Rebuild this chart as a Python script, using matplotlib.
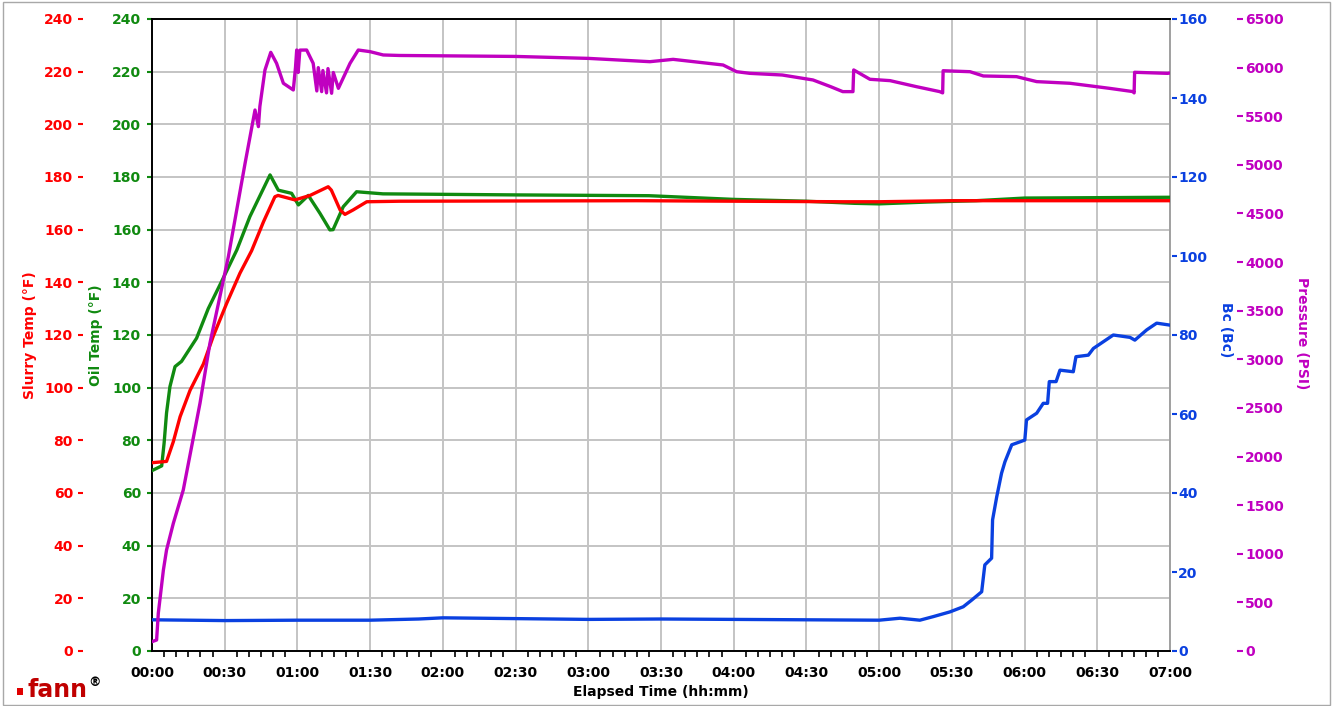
import matplotlib
matplotlib.use("Agg")
import matplotlib.pyplot as plt
from matplotlib.ticker import FixedLocator, FuncFormatter
from matplotlib.patches import Rectangle

# ---------------- data (minutes, value) ----------------
slurry_t = [0, 6, 8.8, 11.6, 15.7, 21.2, 25.3, 30.8, 36.3, 41.1, 46, 50.7, 52, 59, 65.2,
            72.7, 74, 77.6, 79.6, 83, 88.6, 102, 200, 285, 300, 330, 420]
slurry_v = [71.5, 72, 79.5, 89, 99, 109, 119.6, 132, 143.5, 152, 163, 172.5, 173, 171.3, 173,
            176.3, 175, 167.5, 165.8, 167.5, 170.6, 170.8, 171, 170.6, 170.6, 171, 171]

oil_t = [0, 4, 5, 6, 7.4, 9.5, 12.2, 18.4, 23.2, 28.7, 35, 40.4, 48.7, 52.1, 57.6, 60.4,
         64.5, 69.3, 73.4, 74.7, 78.9, 84.4, 95.3, 150, 205, 240, 270, 290, 300, 320,
         340, 360, 420]
oil_v = [68.5, 70.3, 79, 90.4, 100.4, 108, 110, 118.8, 130, 140.3, 152.3, 165, 180.8, 175,
         173.8, 169.4, 173, 166.2, 159.9, 160, 168.7, 174.4, 173.6, 173.2, 172.9, 171.5,
         170.8, 170, 169.8, 170.5, 171, 172, 172.3]

pres_t = [0, 1.9, 2.6, 4.7, 6, 8.8, 12.9, 19.8, 23.9, 28, 31.5, 38.4, 42.5, 43.9, 44.5,
          46.6, 49, 51.4, 54.2, 58.3, 59.2, 59.7, 60.3, 61, 63.8, 66.5, 68, 68.6, 70,
          70.5, 72, 72.6, 74.1, 74.8, 76.9, 81.7, 85.1, 90, 95.4, 102, 150, 180,
          205.4, 215, 235.6, 241.2, 246.7, 260, 272.7, 280, 285, 289.2, 289.5, 296.2,
          304.5, 315.4, 325, 326.2, 326.4, 337.5, 343, 356.7, 365, 378.7, 395, 404.8,
          405.2, 405.4, 419, 420]
pres_v = [96, 113, 388, 833, 1039, 1313, 1656, 2548, 3165, 3644, 4055, 5016, 5564, 5393,
          5600, 5975, 6157, 6044, 5839, 5770, 6000, 6181, 5950, 6180, 6181, 6044, 5760,
          6000, 5753, 5970, 5740, 5990, 5736, 5950, 5787, 6044, 6181, 6164, 6130, 6125,
          6115, 6095, 6061, 6085, 6027, 5958, 5941, 5924, 5873, 5804, 5753, 5753, 5976,
          5880, 5866, 5804, 5753, 5740, 5968, 5958, 5914, 5907, 5856, 5839, 5787, 5753,
          5740, 5952, 5941, 5945]

bc_t = [0, 30, 60, 90, 110, 120, 150, 180, 210, 240, 270, 300, 308.6, 316.8, 322.3,
        329.2, 334.7, 338.2, 342.3, 343.6, 346.4, 346.8, 348.5, 350.5, 351.9, 354.7,
        360.1, 360.8, 365, 367.7, 369.5, 370.2, 373, 374.6, 380.1, 381.2, 386.3, 388.4,
        392.5, 396.6, 403.5, 405.5, 410.4, 414.5, 420]
bc_v = [7.9, 7.7, 7.8, 7.8, 8.1, 8.4, 8.2, 8.0, 8.1, 8.0, 7.9, 7.8, 8.3, 7.8, 8.7,
        9.9, 11.2, 12.9, 15, 21.8, 23.5, 33.2, 39, 45, 47.9, 52.2, 53.4, 58.5, 60.2,
        62.7, 62.7, 68.2, 68.2, 71.1, 70.7, 74.5, 74.9, 76.6, 78.3, 80, 79.4, 78.7,
        81.3, 83, 82.5]

temp_ticks = list(range(0, 241, 20))
bc_ticks = list(range(0, 161, 20))
pres_ticks = list(range(0, 6501, 500))
time_ticks = list(range(0, 421, 30))

RED = "#ff0000"
GREEN = "#108a10"
BLUE = "#0a40e0"
MAG = "#c000c0"

plt.rcParams['font.family'] = ['DejaVu Sans']
plt.rcParams['font.weight'] = 'bold'

W, H = 1333, 706
fig = plt.figure(figsize=(W / 100, H / 100), dpi=100)
L, R, T, B = 152, 1170, 19, 651
ax = fig.add_axes([L / W, 1 - B / H, (R - L) / W, (B - T) / H])

PX = 0.72  # points per pixel

# host: oil temp (green), grid
ax.set_xlim(0, 420)
ax.set_ylim(0, 240)
ax.set_yticks(temp_ticks)
ax.xaxis.set_major_locator(FixedLocator(time_ticks))
ax.xaxis.set_minor_locator(FixedLocator([m for m in range(0, 421, 5) if m % 30 != 0]))
ax.xaxis.set_major_formatter(FuncFormatter(lambda v, p: "%02d:%02d" % (int(v) // 60, int(v) % 60)))
ax.tick_params(axis='x', which='major', length=0, pad=11, labelsize=10, labelcolor='black')
ax.tick_params(axis='x', which='minor', length=4, width=1.2, color='black', direction='out', pad=2)
ax.grid(True, which='major', color='#c4c4c4', linewidth=1.4)
ax.set_axisbelow(True)
for s in ['left', 'top', 'bottom']:
    ax.spines[s].set_color('black')
    ax.spines[s].set_linewidth(1.4)
ax.spines['right'].set_color('#a0a0a0')
ax.spines['right'].set_linewidth(1.4)
ax.tick_params(axis='y', length=5 * PX, width=1.5, color=GREEN, labelcolor=GREEN, labelsize=10, pad=6 * PX, direction='out')
for lab in ax.get_xticklabels() + ax.get_yticklabels():
    lab.set_fontweight('bold')

# red slurry temp axis on the left, offset outward
axr = ax.twinx()
axr.set_ylim(0, 240)
axr.set_yticks(temp_ticks)
axr.yaxis.set_ticks_position('left')
axr.spines['left'].set_position(('outward', 69 * PX))
for s in axr.spines.values():
    s.set_visible(False)
axr.tick_params(axis='y', which='both', left=True, right=False, labelleft=True, labelright=False,
                length=5 * PX, width=1.5, color=RED, labelcolor=RED, labelsize=10, pad=5 * PX)

# Bc axis on the right
axb = ax.twinx()
axb.set_ylim(0, 160)
axb.set_yticks(bc_ticks)
for s in axb.spines.values():
    s.set_visible(False)
axb.spines['right'].set_position(('outward', 2 * PX))
axb.tick_params(axis='y', length=5 * PX, width=1.5, color=BLUE, labelcolor=BLUE, labelsize=10, pad=1 * PX)

# Pressure axis on the right, offset outward
axp = ax.twinx()
axp.set_ylim(0, 6500)
axp.set_yticks(pres_ticks)
for s in axp.spines.values():
    s.set_visible(False)
axp.spines['right'].set_position(('outward', 67 * PX))
axp.tick_params(axis='y', length=6 * PX, width=1.5, color=MAG, labelcolor=MAG, labelsize=10, pad=2 * PX)

for a in (axr, axb, axp):
    for lab in a.get_yticklabels():
        lab.set_fontweight('bold')

LW = 2.4
axb.plot(bc_t, bc_v, color=BLUE, lw=LW)
axp.plot(pres_t, pres_v, color=MAG, lw=LW)
axr.plot(oil_t, oil_v, color=GREEN, lw=LW)
axr.plot(slurry_t, slurry_v, color=RED, lw=LW)
axr.set_xlim(0, 420)

# axis labels
fig.text(30 / W, 1 - 335 / H, "Slurry Temp (°F)", rotation=90, color=RED, fontsize=10,
         fontweight='bold', ha='center', va='center')
fig.text(96 / W, 1 - 335 / H, "Oil Temp (°F)", rotation=90, color=GREEN, fontsize=10,
         fontweight='bold', ha='center', va='center')
fig.text(1226 / W, 1 - 330 / H, "Bc (Bc)", rotation=270, color=BLUE, fontsize=10,
         fontweight='bold', ha='center', va='center')
fig.text(1302 / W, 1 - 333 / H, "Pressure (PSI)", rotation=270, color=MAG, fontsize=10,
         fontweight='bold', ha='center', va='center')
fig.text(661 / W, 1 - 692 / H, "Elapsed Time (hh:mm)", color='black', fontsize=10,
         fontweight='bold', ha='center', va='center')

# logo
fig.patches.append(Rectangle((17 / W, 1 - 695 / H), 6 / W, 7 / H, transform=fig.transFigure,
                             facecolor='#e00000', edgecolor='none'))
fig.text(27 / W, 1 - 697 / H, "fann", color='#c00000', fontsize=17, fontweight='bold',
         ha='left', va='baseline')
fig.text(88 / W, 1 - 686 / H, "®", color='black', fontsize=9, ha='left', va='baseline')

# outer frame
fig.patches.append(Rectangle((3 / W, 1 / H), (1330 - 3) / W, (704 - 1) / H, transform=fig.transFigure,
                             facecolor='none', edgecolor='#a8a8a8', lw=1.0))

fig.savefig("out.png", dpi=100)
